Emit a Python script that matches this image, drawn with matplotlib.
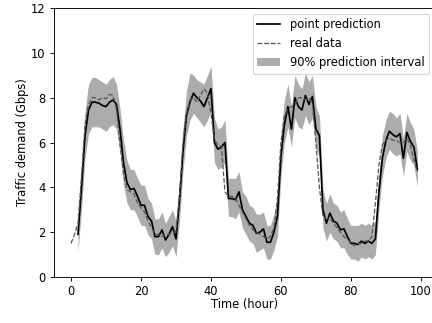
import numpy as np
from matplotlib import pyplot as plt

# hours 0..99 for the real data, prediction starts at hour 2
hours = np.arange(0, 100)
pred_hours = np.arange(2, 100)

real = [1.5, 1.9, 2.4, 4.5, 6.8, 7.7, 8.0, 8.0, 7.9, 8.0,
        7.95, 8.15, 8.1, 7.5, 5.9, 4.6, 3.9, 3.8, 3.7, 3.3,
        3.1, 2.9, 2.5, 2.2, 1.9, 1.9, 1.8, 1.9, 1.9, 2.0,
        2.0, 3.6, 6.0, 7.3, 7.9, 8.0, 7.8, 8.1, 8.4, 8.2,
        7.3, 6.1, 5.9, 5.8, 3.8, 3.6, 3.6, 3.5, 3.2, 2.9,
        2.6, 2.3, 2.1, 2.0, 1.9, 1.8, 1.7, 1.8, 2.2, 3.5,
        6.0, 7.2, 7.5, 7.6, 7.7, 8.0, 8.0, 7.9, 8.0, 7.7,
        6.0, 4.0, 2.7, 2.6, 2.6, 2.4, 2.2, 2.0, 1.8, 1.7,
        1.5, 1.4, 1.5, 1.5, 1.6, 1.6, 1.8, 3.3, 5.0, 5.9,
        6.1, 6.2, 6.1, 6.1, 6.0, 6.0, 6.2, 5.9, 5.2, 4.7]

pred = [1.9, 4.0, 6.3, 7.45, 7.8, 7.8, 7.75, 7.65,
        7.6, 7.8, 7.9, 7.7, 6.6, 5.1, 4.2, 3.9, 3.95, 3.6,
        3.2, 3.2, 2.7, 2.5, 1.8, 1.8, 2.1, 1.65, 1.9, 2.25,
        1.7, 3.4, 5.6, 7.2, 7.8, 8.2, 8.0, 7.85, 7.6, 8.0,
        8.4, 6.0, 5.7, 5.8, 6.0, 3.5, 3.5, 3.45, 3.8, 3.0,
        2.7, 2.4, 2.3, 1.95, 2.0, 2.15, 1.55, 1.55, 2.0, 2.7,
        5.4, 6.8, 7.6, 6.6, 8.0, 7.6, 7.45, 8.1, 7.7, 8.05,
        6.6, 6.3, 3.0, 2.4, 2.85, 2.5, 2.4, 2.1, 2.15, 1.8,
        1.5, 1.5, 1.45, 1.6, 1.5, 1.6, 1.5, 1.7, 3.8, 5.3,
        6.1, 6.5, 6.35, 6.25, 6.4, 5.3, 6.45, 6.05, 5.8, 4.8]

upper = [2.5, 5.0, 7.4, 8.6, 8.9, 8.9, 8.8, 8.7,
         8.6, 8.8, 8.95, 8.6, 7.5, 6.1, 5.2, 4.8, 4.8, 4.4,
         4.1, 4.1, 3.5, 3.3, 2.6, 2.6, 2.9, 2.4, 2.7, 3.0,
         2.5, 4.3, 6.6, 8.3, 9.1, 9.0, 8.8, 8.7, 8.6, 9.0,
         9.4, 7.1, 6.6, 6.7, 7.0, 4.4, 4.4, 4.4, 4.7, 3.8,
         3.6, 3.2, 3.1, 2.8, 2.8, 2.9, 2.3, 2.3, 2.8, 3.5,
         6.4, 7.9, 8.6, 7.6, 9.0, 8.6, 8.4, 9.1, 8.7, 9.0,
         7.6, 7.2, 3.9, 3.3, 3.7, 3.3, 3.2, 2.9, 3.0, 2.6,
         2.3, 2.3, 2.3, 2.4, 2.3, 2.4, 2.3, 2.5, 4.6, 6.3,
         7.0, 7.4, 7.3, 7.1, 7.3, 6.2, 7.3, 6.9, 6.6, 5.6]

lower = [1.1, 3.0, 5.3, 6.4, 6.7, 6.7, 6.7, 6.6,
         6.5, 6.7, 6.8, 6.6, 5.6, 4.1, 3.3, 3.0, 3.0, 2.7,
         2.3, 2.3, 1.9, 1.7, 1.0, 1.0, 1.3, 0.9, 1.1, 1.4,
         0.9, 2.5, 4.7, 6.3, 7.0, 7.3, 7.1, 6.9, 6.7, 7.0,
         7.4, 5.1, 4.8, 4.9, 5.1, 2.7, 2.7, 2.6, 2.9, 2.2,
         1.9, 1.6, 1.5, 1.1, 1.2, 1.3, 0.8, 0.8, 1.2, 1.8,
         4.5, 6.0, 6.7, 5.8, 7.1, 6.7, 6.6, 7.2, 6.8, 7.1,
         5.7, 5.4, 2.2, 1.6, 2.0, 1.7, 1.6, 1.3, 1.3, 1.0,
         0.8, 0.8, 0.7, 0.9, 0.8, 0.9, 0.8, 1.0, 3.0, 4.5,
         5.3, 5.7, 5.5, 5.4, 5.5, 4.5, 5.6, 5.2, 5.0, 4.0]

DPI = 83

fig = plt.figure(figsize=(432 / DPI, 323 / DPI), dpi=DPI)
ax = fig.add_axes([53.7 / 432, 46 / 323, 381 / 432, 269 / 323])

ax.fill_between(pred_hours, lower, upper, color='grey', alpha=0.65,
                linewidth=0, label='90% prediction interval')
ax.plot(pred_hours, pred, '-', color='black', linewidth=1.5,
        label='point prediction')
ax.plot(hours, real, '--', color='#555555', linewidth=1.1,
        label='real data')

ax.set_ylim(0, 12)
ax.set_xlabel('Time (hour)', labelpad=0)
ax.set_ylabel('Traffic demand (Gbps)', labelpad=2)

handles, labels = ax.get_legend_handles_labels()
order = [1, 2, 0]
ax.legend([handles[i] for i in order], [labels[i] for i in order],
          loc='upper right')

fig.savefig('out.png', dpi=DPI)
